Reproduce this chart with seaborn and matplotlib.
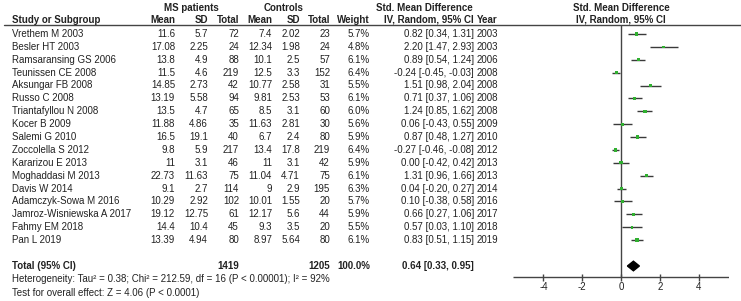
import numpy as np
import matplotlib
matplotlib.use("Agg")
import matplotlib.pyplot as plt
import seaborn as sns

# table data
studies = ["Vrethem M 2003", "Besler HT 2003", "Ramsaransing GS 2006", "Teunissen CE 2008",
           "Aksungar FB 2008", "Russo C 2008", "Triantafyllou N 2008", "Kocer B 2009",
           "Salemi G 2010", "Zoccolella S 2012", "Kararizou E 2013", "Moghaddasi M 2013",
           "Davis W 2014", "Adamczyk-Sowa M 2016", "Jamroz-Wisniewska A 2017", "Fahmy EM 2018",
           "Pan L 2019"]
ms_mean = [11.6, 17.08, 13.8, 11.5, 14.85, 13.19, 13.5, 11.88, 16.5, 9.8, 11, 22.73, 9.1, 10.29, 19.12, 14.4, 13.39]
ms_sd = [5.7, 2.25, 4.9, 4.6, 2.73, 5.58, 4.7, 4.86, 19.1, 5.9, 3.1, 11.63, 2.7, 2.92, 12.75, 10.4, 4.94]
ms_n = [72, 24, 88, 219, 42, 94, 65, 35, 40, 217, 46, 75, 114, 102, 61, 45, 80]
ct_mean = [7.4, 12.34, 10.1, 12.5, 10.77, 9.81, 8.5, 11.63, 6.7, 13.4, 11, 11.04, 9, 10.01, 12.17, 9.3, 8.97]
ct_sd = [2.02, 1.98, 2.5, 3.3, 2.58, 2.53, 3.1, 2.81, 2.4, 17.8, 3.1, 4.71, 2.9, 1.55, 5.6, 3.5, 5.64]
ct_n = [23, 24, 57, 152, 31, 53, 60, 30, 80, 219, 42, 75, 195, 20, 44, 20, 80]
weight = [5.7, 4.8, 6.1, 6.4, 5.5, 6.1, 6.0, 5.6, 5.9, 6.4, 5.9, 6.1, 6.3, 5.7, 5.9, 5.5, 6.1]
smd = [0.82, 2.20, 0.89, -0.24, 1.51, 0.71, 1.24, 0.06, 0.87, -0.27, 0.00, 1.31, 0.04, 0.10, 0.66, 0.57, 0.83]
ci_lo = [0.34, 1.47, 0.54, -0.45, 0.98, 0.37, 0.85, -0.43, 0.48, -0.46, -0.42, 0.96, -0.20, -0.38, 0.27, 0.03, 0.51]
ci_hi = [1.31, 2.93, 1.24, -0.03, 2.04, 1.06, 1.62, 0.55, 1.27, -0.08, 0.42, 1.66, 0.27, 0.58, 1.06, 1.10, 1.15]
years = [2003, 2003, 2006, 2008, 2008, 2008, 2008, 2009, 2010, 2012, 2013, 2013, 2014, 2016, 2017, 2018, 2019]

total_ms, total_ct = 1419, 1205
pooled = [0.64, 0.33, 0.95]
xticks = [-4, -2, 0, 2, 4]
het_text = "Heterogeneity: Tau\u00b2 = 0.38; Chi\u00b2 = 212.59, df = 16 (P < 0.00001); I\u00b2 = 92%"
test_text = "Test for overall effect: Z = 4.06 (P < 0.0001)"

sns.set_theme(style="white")
plt.rcParams['font.family'] = ['Liberation Sans', 'DejaVu Sans']
fs = 7
tc = '#222222'

fig = plt.figure(figsize=(7.41, 3.01), dpi=100)
tax = fig.add_axes([0, 0, 1, 1])
tax.set_xlim(0, 741)
tax.set_ylim(301, 0)
tax.axis('off')

# headers
tax.text(191, 8, "MS patients", ha='center', va='center', fontsize=fs, weight='bold', color=tc)
tax.text(284, 8, "Controls", ha='center', va='center', fontsize=fs, weight='bold', color=tc)
tax.text(424, 8, "Std. Mean Difference", ha='center', va='center', fontsize=fs, weight='bold', color=tc)
tax.text(621, 8, "Std. Mean Difference", ha='center', va='center', fontsize=fs, weight='bold', color=tc)
tax.text(621, 20, "IV, Random, 95% CI", ha='center', va='center', fontsize=fs, weight='bold', color=tc)
hdr = [(12, "Study or Subgroup", 'left'), (175, "Mean", 'right'), (208, "SD", 'right'),
       (239, "Total", 'right'), (272, "Mean", 'right'), (300, "SD", 'right'),
       (330, "Total", 'right'), (370, "Weight", 'right'), (474, "IV, Random, 95% CI", 'right'),
       (477, "Year", 'left')]
for x, s, ha in hdr:
    tax.text(x, 20, s, ha=ha, va='center', fontsize=fs, weight='bold', color=tc)
tax.plot([4, 741], [24.5, 24.5], color='#444444', lw=1)

row_y = 34 + 12.875 * np.arange(len(studies))
for i, y in enumerate(row_y):
    cells = [(12, studies[i], 'left'), (175, f"{ms_mean[i]:g}", 'right'), (208, f"{ms_sd[i]:g}", 'right'),
             (239, f"{ms_n[i]}", 'right'), (272, f"{ct_mean[i]:g}", 'right'), (300, f"{ct_sd[i]:g}", 'right'),
             (330, f"{ct_n[i]}", 'right'), (370, f"{weight[i]:.1f}%", 'right'),
             (474, f"{smd[i]:.2f} [{ci_lo[i]:.2f}, {ci_hi[i]:.2f}]", 'right'), (477, f"{years[i]}", 'left')]
    for x, s, ha in cells:
        tax.text(x, y, s, ha=ha, va='center', fontsize=fs, color=tc)

ty = 266
for x, s, ha in [(12, "Total (95% CI)", 'left'), (239, f"{total_ms}", 'right'), (330, f"{total_ct}", 'right'),
                 (370, "100.0%", 'right'),
                 (474, f"{pooled[0]:.2f} [{pooled[1]:.2f}, {pooled[2]:.2f}]", 'right')]:
    tax.text(x, ty, s, ha=ha, va='center', fontsize=fs, weight='bold', color=tc)
tax.text(12, 279.5, het_text, ha='left', va='center', fontsize=fs, color=tc)
tax.text(12, 292.5, test_text, ha='left', va='center', fontsize=fs, color=tc)

# forest panel
fax = fig.add_axes([513 / 741, 0, 216 / 741, 1])
fax.patch.set_alpha(0)

fax.vlines(0, 24.5, 277, color='#444444', lw=1)
fax.hlines(row_y, ci_lo, ci_hi, color='#3a3a3a', lw=1)
sns.scatterplot(x=smd, y=row_y, size=weight, sizes=(3, 6), marker='s', color='#30b030',
                linewidth=0, legend=False, ax=fax, zorder=3)
fax.set_xlim(-5.57, 5.57)
fax.set_ylim(301, 0)
fax.axis('off')

dy = 4.8
fax.fill([pooled[1], pooled[0], pooled[2], pooled[0]], [ty, ty - dy, ty, ty + dy], color='black', zorder=4)

ax_y = 277.3
fax.hlines(ax_y, -5.57, 5.57, color='#444444', lw=1)
for t in xticks:
    fax.vlines(t, ax_y - 3, ax_y + 3.5, color='#444444', lw=1)
    fax.text(t, 287, f"{t}", ha='center', va='center', fontsize=fs, color=tc)

fig.savefig("out.png", dpi=100)
